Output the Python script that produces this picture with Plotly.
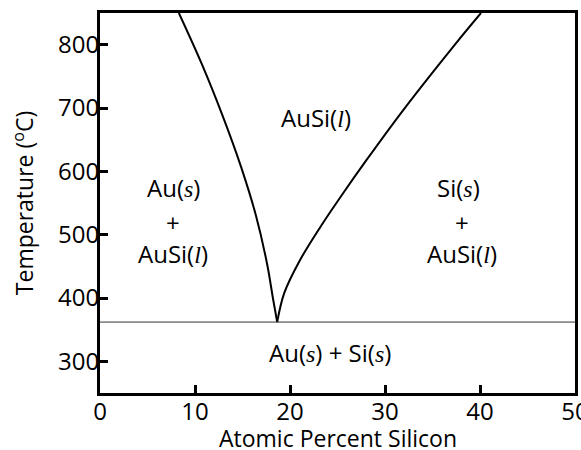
import plotly.graph_objects as go

# Liquidus curves (atomic % Si vs temperature in °C)
x_left = [8.3, 10.7, 12.95, 14.85, 16.4, 17.6, 18.2, 18.65]
t_left = [850, 770, 686, 607, 531, 453, 400, 362]
x_right = [18.65, 19.4, 21.06, 23.23, 25.57, 28.06, 31.88, 37.4, 40.1]
t_right = [362, 408, 460, 513, 565, 618, 696, 801, 850]
# Eutectic isotherm
x_eut = [0, 50]
t_eut = [362, 362]

x_ticks = [0, 10, 20, 30, 40, 50]
y_ticks = [300, 400, 500, 600, 700, 800]

it = lambda c: '<span style="font-family:Liberation Serif"><i>' + c + '</i></span>'
label_text = ["AuSi(" + it("l") + ")",
              "Au(" + it("s") + ")", "+", "AuSi(" + it("l") + ")",
              "Si(" + it("s") + ")", "+", "AuSi(" + it("l") + ")",
              "Au(" + it("s") + ") + Si(" + it("s") + ")"]
label_x = [22.7, 7.7, 7.7, 7.7, 37.7, 38.1, 38.1, 24.2]
label_y = [685, 574, 520, 471, 574, 520, 471, 314]

x_title = "Atomic Percent Silicon"
y_title = "Temperature (<sup>o</sup>C)"

FONT = "Open Sans"

fig = go.Figure()
fig.add_trace(go.Scatter(x=x_left, y=t_left, mode="lines",
                         line=dict(color="black", width=2, shape="spline", smoothing=1),
                         hoverinfo="skip", showlegend=False))
fig.add_trace(go.Scatter(x=x_right, y=t_right, mode="lines",
                         line=dict(color="black", width=2, shape="spline", smoothing=1),
                         hoverinfo="skip", showlegend=False))
fig.add_trace(go.Scatter(x=x_eut, y=t_eut, mode="lines",
                         line=dict(color="#333333", width=1),
                         hoverinfo="skip", showlegend=False))

for txt, xx, yy in zip(label_text, label_x, label_y):
    fig.add_annotation(x=xx, y=yy, text=txt, showarrow=False,
                       font=dict(family=FONT, size=24, color="black"),
                       xanchor="center", yanchor="middle")

# x-axis title as a paper-anchored annotation (so it can sit low, as in the reference)
fig.add_annotation(x=0.5, y=0, xref="paper", yref="paper", text=x_title,
                   showarrow=False, xanchor="center", yanchor="middle", yshift=-45,
                   font=dict(family=FONT, size=23, color="black"))

axis_common = dict(showline=True, linecolor="black", linewidth=3, mirror=True,
                   ticks="inside", ticklen=8, tickwidth=2.5, tickcolor="black",
                   showgrid=False, zeroline=False, automargin=False,
                   ticklabeloverflow="allow",
                   tickfont=dict(family=FONT, size=24, color="black"))

fig.update_xaxes(range=[0, 50], tickvals=x_ticks, ticklabelstandoff=-5,
                 **axis_common)
fig.update_yaxes(range=[250, 850], tickvals=y_ticks, ticklabelstandoff=-7,
                 title=dict(text=y_title,
                            font=dict(family=FONT, size=23, color="black"), standoff=18),
                 **axis_common)

fig.update_layout(width=581, height=450,
                  margin=dict(l=100, r=6, t=13, b=57, autoexpand=False),
                  plot_bgcolor="white", paper_bgcolor="white")

fig.write_html("out.html", config={"displayModeBar": False},
               post_script="document.body.style.margin='0';document.body.style.overflow='hidden';")
